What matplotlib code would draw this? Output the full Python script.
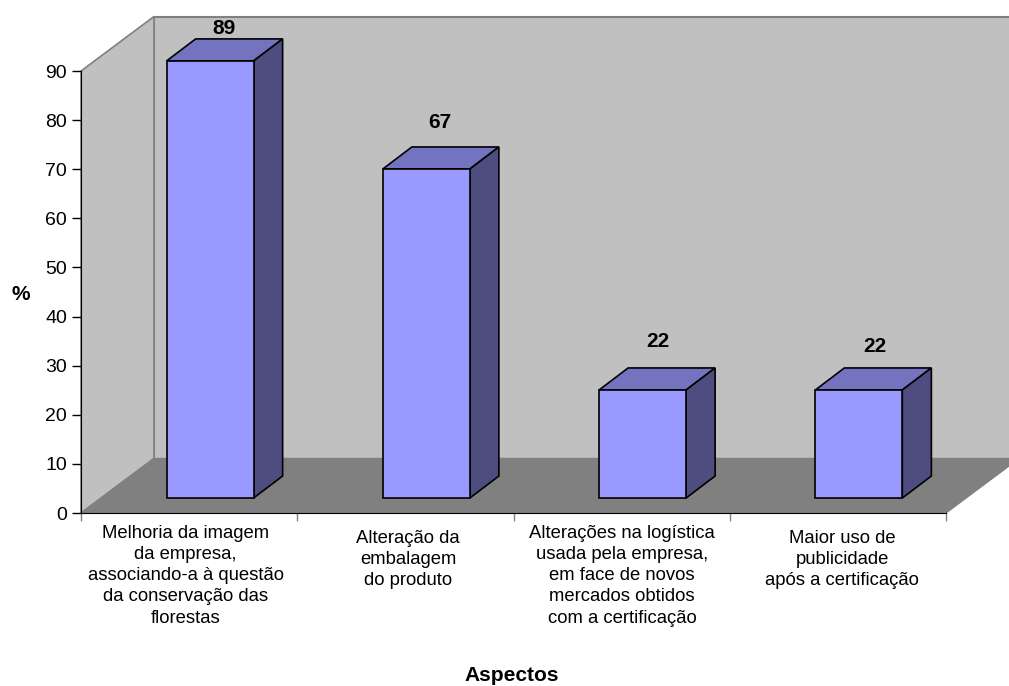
import matplotlib
matplotlib.use('Agg')
import matplotlib.pyplot as plt

plt.rcParams['font.family'] = ['Liberation Sans', 'DejaVu Sans']

categories = ['Melhoria da imagem\nda empresa,\nassociando-a à questão\nda conservação das\nflorestas',
              'Alteração da\nembalagem\ndo produto',
              'Alterações na logística\nusada pela empresa,\nem face de novos\nmercados obtidos\ncom a certificação',
              'Maior uso de\npublicidade\napós a certificação']
values = [89, 67, 22, 22]
yticks = list(range(0, 100, 10))
label_y = [28, 122, 342, 347]  # px, value labels sit at uneven heights
label_x = [224, 440, 658, 875]
text_x = [185.5, 408, 622, 842]
text_top = [525, 530, 525, 530]

W, H = 1009, 686
x0, x1 = 81, 946      # front floor edge, px
y_zero, y_top = 513, 71

fig = plt.figure(figsize=(W / 100, H / 100), dpi=100)
ax = fig.add_axes([x0 / W, 1 - y_zero / H, (x1 - x0) / W, (y_zero - y_top) / H])
ax.set_xlim(0, 4)
ax.set_ylim(0, 90)

# px to data units, the 3d look is just a sheared offset
ux = 4 / (x1 - x0)
uy = 90 / (y_zero - y_top)
wall_dx, wall_dy = 73 * ux, 54.5 * uy
bar_w = 87 * ux
off_dx, off_dy = 21 * ux, 15 * uy
dep_dx, dep_dy = 29 * ux, 22 * uy

WALL = '#C0C0C0'
FLOOR = '#808080'
FRONT = '#9999FF'
TOP = '#7373BF'
SIDE = '#4D4D80'

# back wall, side wall, floor
ax.fill([wall_dx, 4 + wall_dx, 4 + wall_dx, wall_dx], [wall_dy, wall_dy, 90 + wall_dy, 90 + wall_dy],
        fc=WALL, ec=FLOOR, lw=1.5, clip_on=False, zorder=1)
ax.fill([0, wall_dx, wall_dx, 0], [0, wall_dy, 90 + wall_dy, 90], fc=WALL, ec=FLOOR, lw=1.2, clip_on=False, zorder=1)
ax.fill([0, 4, 4 + wall_dx, wall_dx], [0, 0, wall_dy, wall_dy], fc=FLOOR, ec=FLOOR, lw=1, clip_on=False, zorder=2)

for i, v in enumerate(values):
    left = i + 0.5 + off_dx - bar_w / 2
    right = left + bar_w
    ax.bar(left, v, width=bar_w, bottom=off_dy, align='edge', color=FRONT, ec='black', lw=1.2, zorder=5, clip_on=False)
    top = off_dy + v
    ax.fill([left, right, right + dep_dx, left + dep_dx], [top, top, top + dep_dy, top + dep_dy],
            fc=TOP, ec='black', lw=1.2, clip_on=False, zorder=4)
    ax.fill([right, right + dep_dx, right + dep_dx, right], [off_dy, off_dy + dep_dy, top + dep_dy, top],
            fc=SIDE, ec='black', lw=1.2, clip_on=False, zorder=4)
    fig.text(label_x[i] / W, 1 - label_y[i] / H, str(v), ha='center', va='center',
             fontsize=15, fontweight='bold', zorder=6)
    fig.text(text_x[i] / W, 1 - text_top[i] / H, categories[i], ha='center', va='top',
             fontsize=13.3, linespacing=1.32)

ax.set_xticks(range(5))
ax.set_xticklabels([])
ax.set_yticks(yticks)
ax.tick_params(axis='y', length=6.5, width=1, labelsize=14, pad=3.5)
ax.tick_params(axis='x', length=6, width=1, color=FLOOR)
for s in ['top', 'right']:
    ax.spines[s].set_visible(False)
ax.spines['left'].set_zorder(3)
ax.spines['bottom'].set_zorder(3)
ax.patch.set_alpha(0)

fig.text(20.5 / W, 1 - 294 / H, '%', ha='center', va='center', fontsize=15, fontweight='bold')
fig.text(511.5 / W, 1 - 681 / H, 'Aspectos', ha='center', va='baseline', fontsize=15, fontweight='bold')

fig.savefig('out.png', dpi=100)
